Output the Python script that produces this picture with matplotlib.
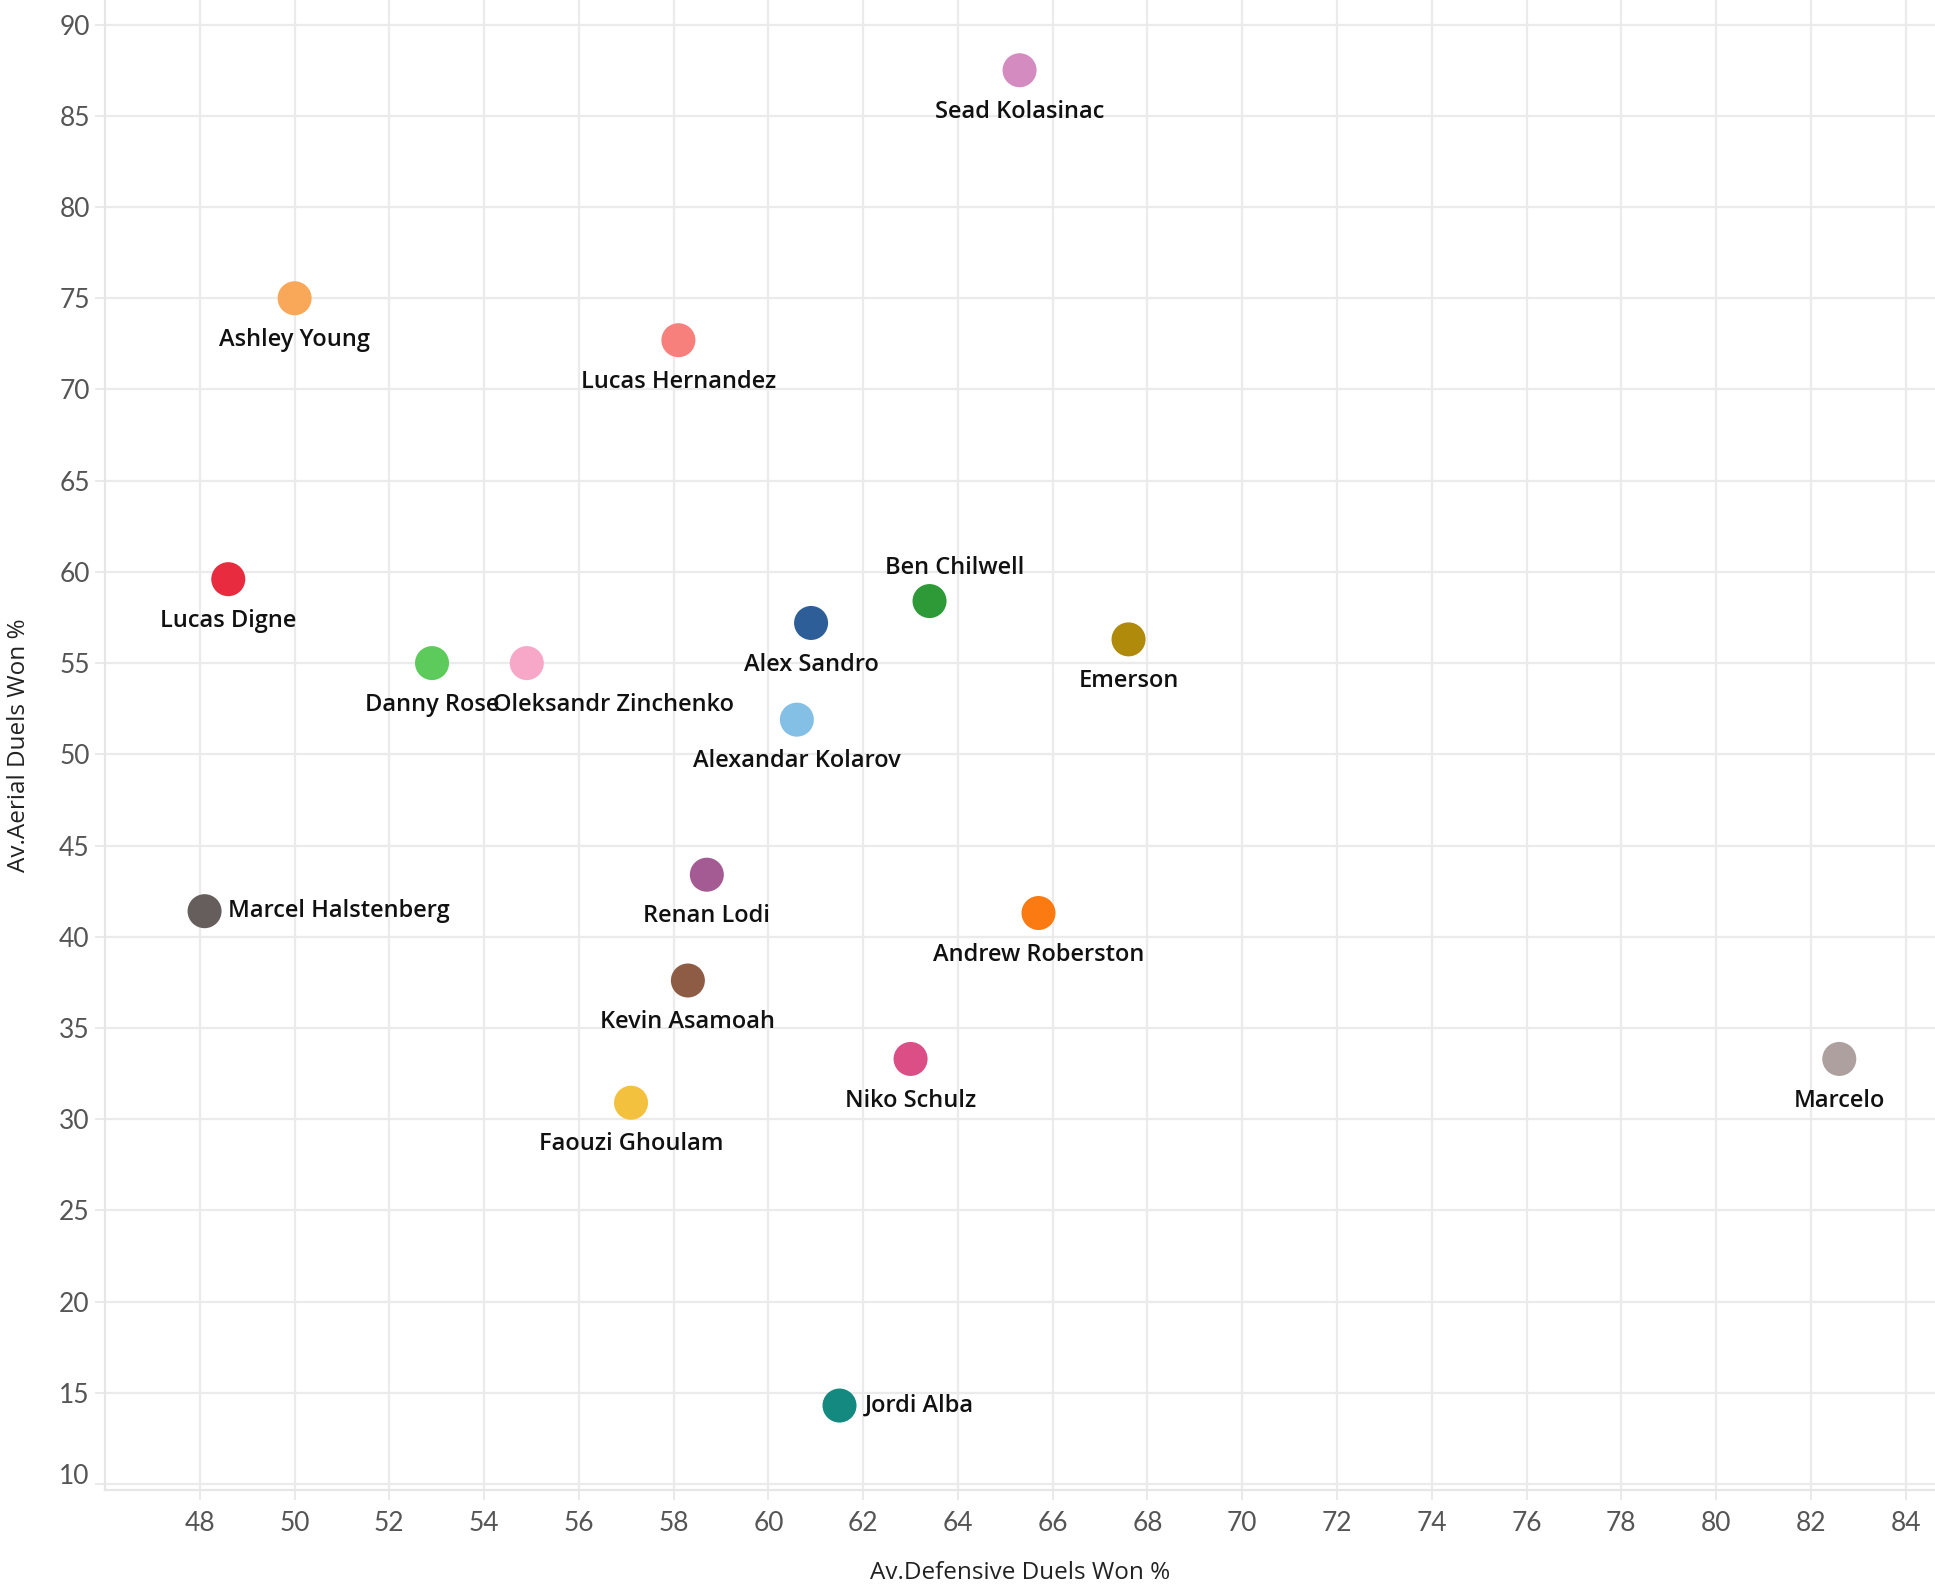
"""Full-backs: defensive duels won % vs aerial duels won % (scatter with name labels)."""

import matplotlib
matplotlib.use("Agg")
import matplotlib.pyplot as plt
from matplotlib.transforms import ScaledTranslation

PLAYERS = ["Sead Kolasinac", "Ashley Young", "Lucas Hernandez", "Lucas Digne",
           "Danny Rose", "Oleksandr Zinchenko", "Alex Sandro", "Ben Chilwell",
           "Emerson", "Alexandar Kolarov", "Renan Lodi", "Marcel Halstenberg",
           "Andrew Roberston", "Kevin Asamoah", "Niko Schulz", "Marcelo",
           "Faouzi Ghoulam", "Jordi Alba"]
DEF_DUELS = [65.3, 50.0, 58.1, 48.6, 52.9, 54.9, 60.9, 63.4, 67.6, 60.6,
             58.7, 48.1, 65.7, 58.3, 63.0, 82.6, 57.1, 61.5]
AERIAL_DUELS = [87.5, 75.0, 72.7, 59.6, 55.0, 55.0, 57.2, 58.4, 56.3, 51.9,
                43.4, 41.4, 41.3, 37.6, 33.3, 33.3, 30.9, 14.3]
COLORS = ["#D48CC0", "#F9A85A", "#F8807C", "#E82B3E", "#5CCB5C", "#F7A8C8",
          "#2E5E98", "#2D9A37", "#B08A0B", "#84BFE6", "#A45A93", "#665E5C",
          "#FB7A12", "#8E5C44", "#DB4E86", "#ADA09F", "#F4C13F", "#14897F"]

# label placement (offset in points, horizontal alignment); default is centred below
BELOW = ((0, -30), "center")
LABEL_POS = {
    "Ben Chilwell": ((18, 24), "center"),
    "Oleksandr Zinchenko": ((-24, -30), "left"),
    "Marcel Halstenberg": ((17, 0), "left"),
    "Jordi Alba": ((18, 0), "left"),
}

fig = plt.figure(figsize=(19.35, 15.89), dpi=100)
ax = fig.add_axes([0.0543, 0.0623, 0.9457, 0.9377])

ax.scatter(DEF_DUELS, AERIAL_DUELS, s=600, c=COLORS, linewidths=0, zorder=3)
for name, x, y in zip(PLAYERS, DEF_DUELS, AERIAL_DUELS):
    (dx, dy), ha = LABEL_POS.get(name, BELOW)
    ax.annotate(name, (x, y), xytext=(dx, dy), textcoords="offset points",
                ha=ha, va="center", fontsize=17, color="#111111",
                family="Open Sans", weight="semibold", zorder=4)

ax.set_xlim(46.0, 84.62)
ax.set_ylim(9.67, 91.35)
ax.set_xticks(range(48, 85, 2))
ax.set_yticks(range(10, 91, 5))
ax.grid(True, color="#ebebeb", lw=1.6, zorder=0)
for side in ("top", "right"):
    ax.spines[side].set_visible(False)
for side in ("left", "bottom"):
    ax.spines[side].set_color("#e6e6e6")
    ax.spines[side].set_linewidth(1.6)
ax.tick_params(length=7, width=1.2, color="#e6e6e6", labelsize=19,
               labelcolor="#555555")
ax.tick_params(axis="x", pad=8)
ax.tick_params(axis="y", pad=4)
for lbl in ax.get_xticklabels() + ax.get_yticklabels():
    lbl.set_family("Lato")
# the lowest y label is nudged up so it stays inside the axis, as in Tableau
bottom = ax.get_yticklabels()[0]
bottom.set_transform(bottom.get_transform()
                     + ScaledTranslation(0, 7 / 72, fig.dpi_scale_trans))

ax.set_xlabel("Av.Defensive Duels Won %", fontsize=17.5, color="#222222",
              family="Open Sans", labelpad=18)
ax.set_ylabel("Av.Aerial Duels Won %", fontsize=17.5, color="#222222",
              family="Open Sans", labelpad=20)

fig.savefig("out.png", dpi=100)
